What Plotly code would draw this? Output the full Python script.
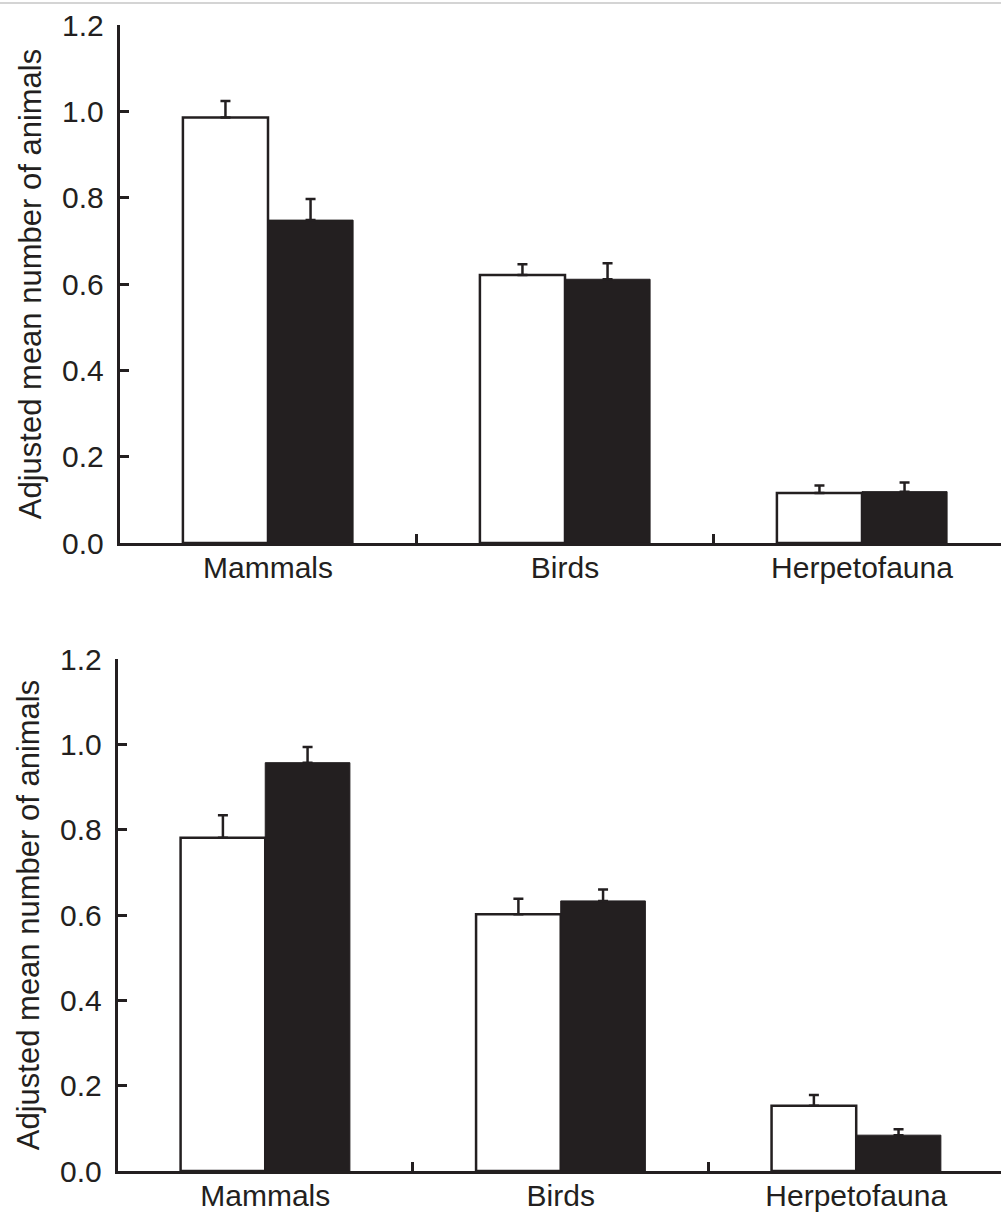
import plotly.graph_objects as go

categories = ["Mammals", "Birds", "Herpetofauna"]
cat_pos = [0, 1, 2]

# Top panel
top_white = [0.986, 0.621, 0.116]
top_white_err = [0.038, 0.025, 0.017]
top_black = [0.748, 0.611, 0.119]
top_black_err = [0.049, 0.037, 0.021]

# Bottom panel
bot_white = [0.781, 0.602, 0.153]
bot_white_err = [0.053, 0.036, 0.025]
bot_black = [0.957, 0.633, 0.084]
bot_black_err = [0.037, 0.027, 0.014]

y_ticks = [0.0, 0.2, 0.4, 0.6, 0.8, 1.0, 1.2]
y_ticktext = ["0.0", "0.2", "0.4", "0.6", "0.8", "1.0", "1.2"]

INK = "#231f20"
FONT = "Liberation Sans, Arial, Helvetica, sans-serif"
W, H = 1001, 1214

fig = go.Figure()

def add_pair(white, white_err, black, black_err, xa, ya):
    fig.add_trace(go.Bar(
        x=cat_pos, y=white, xaxis=xa, yaxis=ya,
        marker=dict(color="white", line=dict(color=INK, width=2.5)),
        error_y=dict(type="data", symmetric=False, array=white_err,
                     arrayminus=[0] * len(white_err),
                     color=INK, thickness=2.5, width=5),
        showlegend=False, hoverinfo="skip",
    ))
    fig.add_trace(go.Bar(
        x=cat_pos, y=black, xaxis=xa, yaxis=ya,
        marker=dict(color=INK, line=dict(color=INK, width=1)),
        error_y=dict(type="data", symmetric=False, array=black_err,
                     arrayminus=[0] * len(black_err),
                     color=INK, thickness=2.5, width=5),
        showlegend=False, hoverinfo="skip",
    ))

add_pair(top_white, top_white_err, top_black, top_black_err, "x", "y")
add_pair(bot_white, bot_white_err, bot_black, bot_black_err, "x2", "y2")

def xaxis_cfg(domain_left, rng):
    return dict(
        domain=[domain_left, 1.0], range=rng,
        tickmode="array", tickvals=cat_pos, ticktext=categories,
        ticks="", showgrid=False, zeroline=False,
        showline=True, linecolor=INK, linewidth=2.5,
        tickfont=dict(family=FONT, size=30, color=INK),
        ticklabelstandoff=-4,
        minor=dict(tickvals=[0.5, 1.5], ticks="inside", ticklen=9,
                   tickwidth=2.5, tickcolor=INK, showgrid=False),
        fixedrange=True,
    )

def yaxis_cfg(domain, anchor):
    return dict(
        domain=domain, range=[0, 1.2], anchor=anchor,
        tickmode="array", tickvals=y_ticks, ticktext=y_ticktext,
        ticks="inside", ticklen=10, tickwidth=2.5, tickcolor=INK,
        showgrid=False, zeroline=False,
        showline=True, linecolor=INK, linewidth=2.5,
        tickfont=dict(family=FONT, size=30, color=INK),
        ticklabelstandoff=7,
        title=dict(text="Adjusted mean number of animals",
                   font=dict(family=FONT, size=31, color=INK), standoff=12),
        fixedrange=True,
    )

fig.update_layout(
    width=W, height=H,
    margin=dict(l=0, r=0, t=0, b=0, autoexpand=False),
    paper_bgcolor="white", plot_bgcolor="white",
    barmode="group", bargap=0.427, bargroupgap=0,
    xaxis=dict(xaxis_cfg(119.5 / W, [-0.5, 2.468]), anchor="y"),
    yaxis=yaxis_cfg([1 - 543 / H, 1 - 25 / H], "x"),
    xaxis2=dict(xaxis_cfg(117.5 / W, [-0.5, 2.49]), anchor="y2"),
    yaxis2=yaxis_cfg([1 - 1171 / H, 1 - 659 / H], "x2"),
    shapes=[dict(type="line", xref="paper", yref="paper", x0=0, x1=1,
                 y0=1 - 3 / H, y1=1 - 3 / H,
                 line=dict(color="#d4d4d4", width=2))],
)

fig.write_html("out.html")
